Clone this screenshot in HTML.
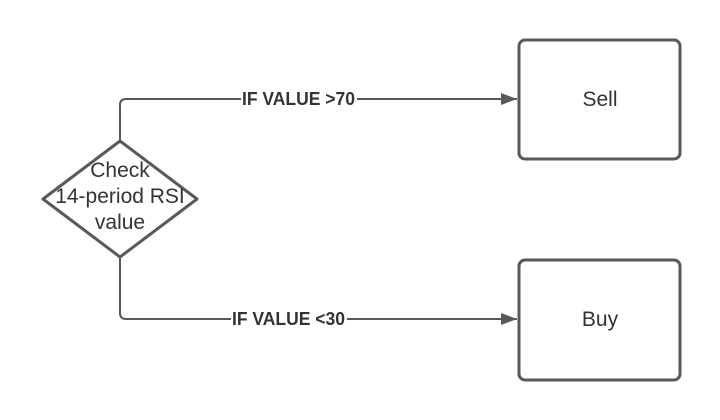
<!DOCTYPE html>
<html><head><meta charset="utf-8"><style>
html,body{margin:0;padding:0;background:#fff;}
svg{display:block;}
</style></head><body>
<svg width="720" height="420" viewBox="0 0 720 420" xmlns="http://www.w3.org/2000/svg" font-family="Liberation Sans, Arial, sans-serif">
<defs><marker id="a" markerWidth="16" markerHeight="12" refX="16" refY="6" orient="auto" markerUnits="userSpaceOnUse"><path d="M0,0 L16,6 L0,12 z" fill="#595959"/></marker></defs>
<g stroke="#595959" stroke-width="2" fill="none">
<path d="M120,141 V105 Q120,99 126,99 H517" marker-end="url(#a)"/>
<path d="M120,257 V313 Q120,319 126,319 H517" marker-end="url(#a)"/>
</g>
<path d="M120,141 L197,199 L120,257 L43,199 Z" fill="#fff" stroke="#595959" stroke-width="3" stroke-linejoin="round"/>
<rect x="519" y="40" width="161" height="119" rx="6" fill="#fff" stroke="#595959" stroke-width="3"/>
<rect x="519" y="260" width="161" height="120" rx="6" fill="#fff" stroke="#595959" stroke-width="3"/>
<g fill="#333" font-size="21" text-anchor="middle">
<text x="120" y="177">Check</text>
<text x="120" y="203">14-period RSI</text>
<text x="120" y="229">value</text>
<text x="600" y="106">Sell</text>
<text x="600" y="326">Buy</text>
</g>
<g font-size="18" font-weight="bold" fill="#333">
<rect x="241" y="89" width="116" height="20" fill="#fff"/>
<text x="242" y="105" textLength="113" lengthAdjust="spacingAndGlyphs">IF VALUE &gt;70</text>
<rect x="231" y="309" width="116" height="20" fill="#fff"/>
<text x="232" y="325" textLength="113" lengthAdjust="spacingAndGlyphs">IF VALUE &lt;30</text>
</g>
</svg>
</body></html>
